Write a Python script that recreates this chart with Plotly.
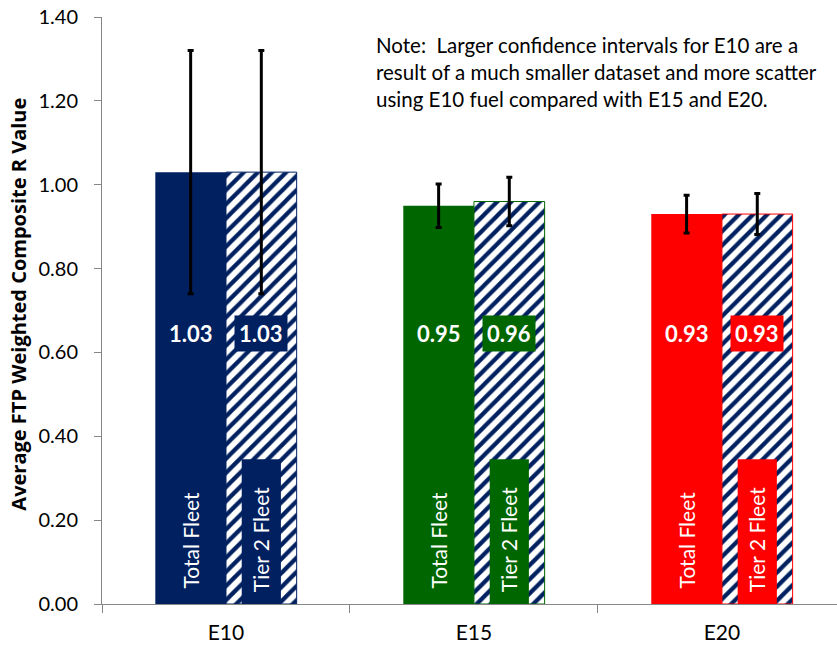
import plotly.graph_objects as go

# Fuel blends and fleet groups
fuels = ["E10", "E15", "E20"]
total_fleet = [1.03, 0.95, 0.93]
tier2_fleet = [1.03, 0.96, 0.93]
total_err = [0.29, 0.052, 0.045]
tier2_err = [0.29, 0.058, 0.049]
fuel_colors = ["#002060", "#006600", "#FF0000"]
y_ticks = [0.0, 0.2, 0.4, 0.6, 0.8, 1.0, 1.2, 1.4]
note_lines = [
    "Note:  Larger confidence intervals for E10 are a",
    "result of a much smaller dataset and more scatter",
    "using E10 fuel compared with E15 and E20.",
]

NAVY = "#002060"
FONT = "Lato"
BARGAP = 0.43
HALF = (1 - BARGAP) / 4  # offset of each bar centre from its category centre

fig = go.Figure()

fig.add_trace(go.Bar(
    x=fuels, y=total_fleet, name="Total Fleet",
    marker=dict(color=fuel_colors, line=dict(width=0)),
    error_y=dict(type="data", array=total_err, color="black", thickness=3, width=3),
    hoverinfo="x+y",
))
fig.add_trace(go.Bar(
    x=fuels, y=tier2_fleet, name="Tier 2 Fleet",
    marker=dict(
        color="white",
        line=dict(color=fuel_colors, width=1),
        pattern=dict(shape="/", fgcolor=NAVY, bgcolor="white", size=10,
                     solidity=0.42, fillmode="replace"),
    ),
    error_y=dict(type="data", array=tier2_err, color="black", thickness=3, width=3),
    hoverinfo="x+y",
))

annotations = []
shapes = []
label_y = 0.646
name_y = 0.153
for i, fuel in enumerate(fuels):
    c = fuel_colors[i]
    x_tot = i - HALF
    x_t2 = i + HALF
    # value labels
    annotations.append(dict(
        x=x_tot, y=label_y, xref="x", yref="y", showarrow=False,
        text=f"<b>{total_fleet[i]:.2f}</b>",
        font=dict(family=FONT, size=22, color="white"),
    ))
    annotations.append(dict(
        x=x_t2, y=label_y, xref="x", yref="y", showarrow=False,
        text=f"<b>{tier2_fleet[i]:.2f}</b>",
        font=dict(family=FONT, size=22, color="white"),
        bgcolor=c, borderpad=4,
    ))
    # fleet names, written vertically at the foot of each bar
    shapes.append(dict(
        type="rect", xref="x", yref="y", layer="above",
        x0=x_t2 - 0.079, x1=x_t2 + 0.079, y0=0, y1=0.345,
        fillcolor=c, line=dict(width=0),
    ))
    annotations.append(dict(
        x=x_tot, y=name_y, xref="x", yref="y", showarrow=False,
        text="Total Fleet", textangle=-90,
        font=dict(family=FONT, size=21, color="white"),
    ))
    annotations.append(dict(
        x=x_t2, y=name_y, xref="x", yref="y", showarrow=False,
        text="Tier 2 Fleet", textangle=-90,
        font=dict(family=FONT, size=21, color="white"),
    ))

# note in the upper right
for k, line in enumerate(note_lines):
    annotations.append(dict(
        x=0.37, xref="paper", xanchor="left",
        y=1.333 - 0.0644 * k, yref="y", yanchor="middle",
        text=line, showarrow=False, align="left",
        font=dict(family=FONT, size=20.5, color="black"),
    ))

# y-axis title
annotations.append(dict(
    x=0, xref="paper", xanchor="center", xshift=-83,
    y=0.51, yref="paper", yanchor="middle",
    text="<b>Average FTP Weighted Composite R Value</b>", textangle=-90,
    showarrow=False, font=dict(family="Open Sans", size=20, color="black"),
))

fig.update_layout(
    width=837, height=648,
    margin=dict(l=102, r=0, t=17, b=44),
    paper_bgcolor="white", plot_bgcolor="white",
    barmode="group", bargap=BARGAP, bargroupgap=0,
    showlegend=False,
    annotations=annotations, shapes=shapes,
    font=dict(family=FONT, color="black"),
)
fig.update_xaxes(
    type="category", range=[-0.5, 2.464],
    showline=True, linecolor="#868686", linewidth=1,
    ticks="outside", tickson="boundaries", ticklen=8, tickcolor="#868686",
    ticklabelstandoff=10,
    tickfont=dict(family=FONT, size=21), showgrid=False,
)
fig.update_yaxes(
    range=[0, 1.4], tickvals=y_ticks, tickformat=".2f",
    showline=True, linecolor="#868686", linewidth=1,
    ticks="outside", ticklen=7, tickcolor="#868686",
    ticklabelstandoff=12,
    tickfont=dict(family=FONT, size=20), showgrid=False, zeroline=False,
)

fig.write_html("out.html")
